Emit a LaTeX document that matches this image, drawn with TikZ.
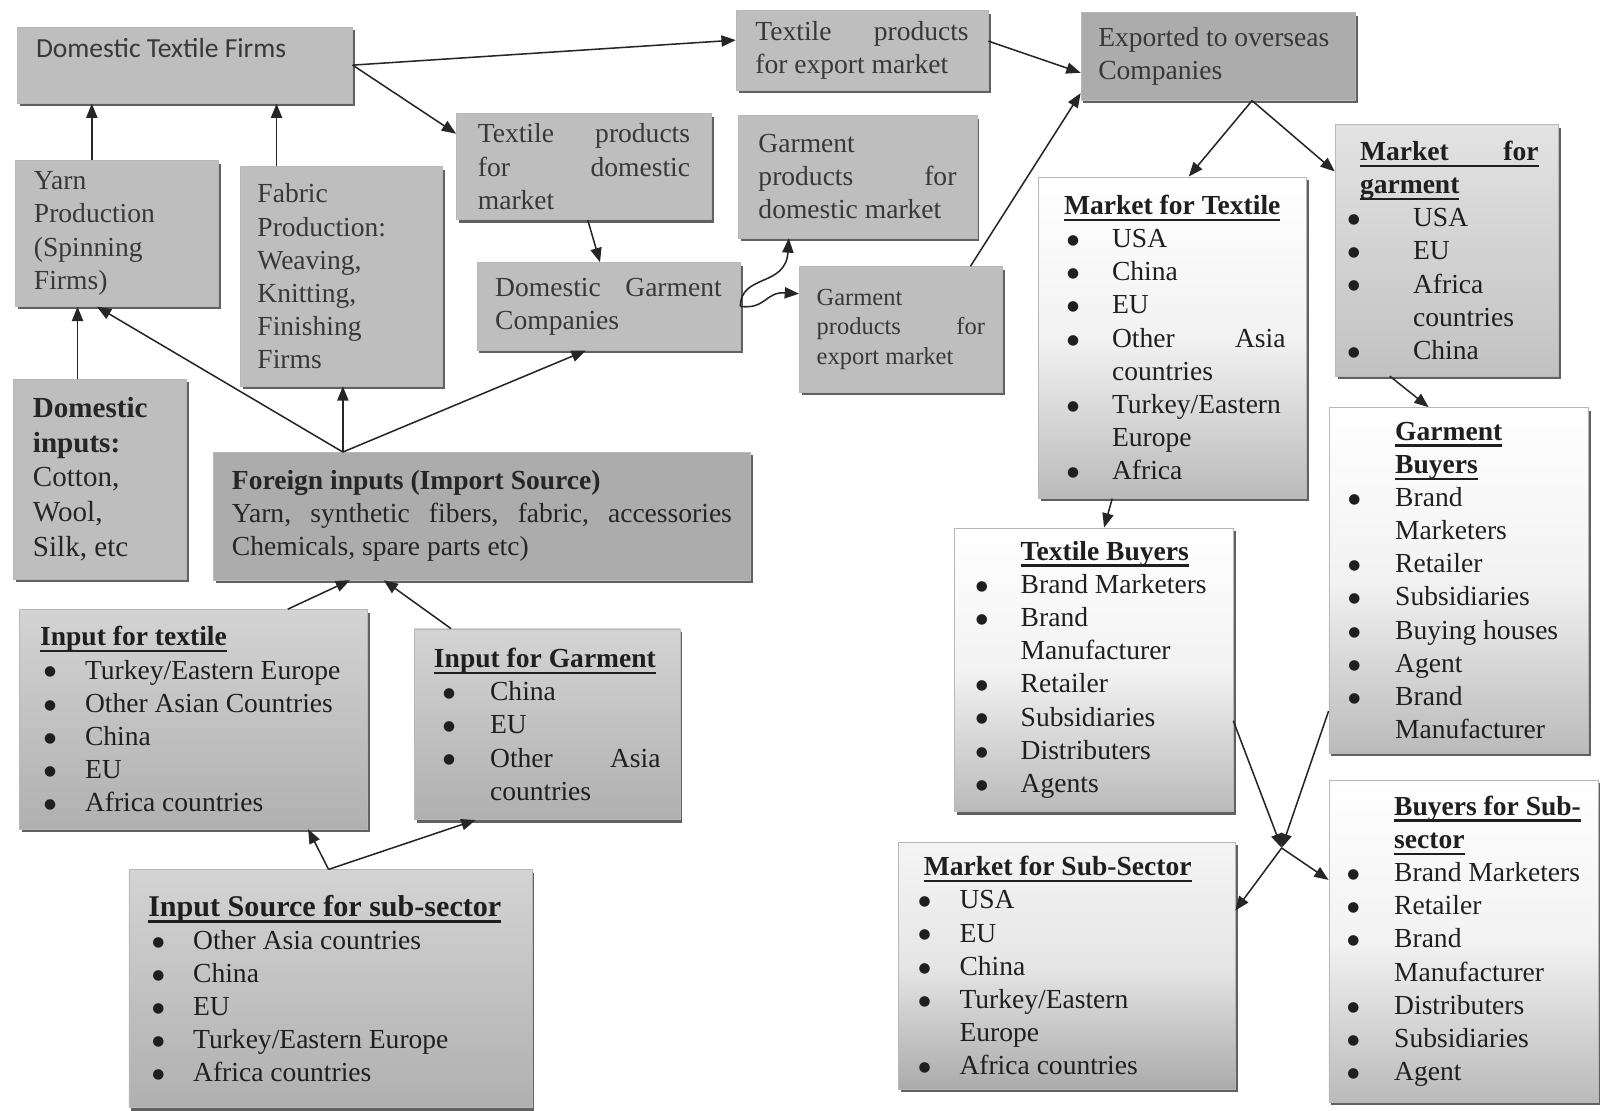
\documentclass[tikz,border=0pt]{standalone}
\usepackage{fontspec}
\setmainfont{Liberation Serif}
\newfontfamily\calibfont{Carlito}
\newfontfamily\dotfont{DejaVu Sans}
\usetikzlibrary{arrows.meta,shadows}

\definecolor{panelgrey}{RGB}{190,190,190}
\definecolor{deepgrey}{RGB}{172,172,172}

% line helpers for the boxes
\newlength{\bhang}\setlength{\bhang}{44pt}
\newlength{\boff}\setlength{\boff}{4pt}
\newcommand{\panel}[2]{\vbox{\hsize=#1\relax #2}}
\newcommand{\row}[1]{\hbox to\hsize{#1\hfil}}
\newcommand{\jrow}[1]{\hbox to\hsize{#1}}
\newcommand{\dotmark}{\raisebox{3pt}{\dotfont\fontsize{13.5}{13.5}\selectfont ●}}
\newcommand{\itm}[1]{\hbox to\hsize{\hbox to\bhang{\hskip\boff\dotmark\hfil}#1\hfil}}
\newcommand{\cnt}[1]{\hbox to\hsize{\hskip\bhang #1\hfil}}
\newcommand{\hdr}[1]{\setbox0=\hbox{\bfseries #1}\rlap{\rule[-6.5pt]{\wd0}{2.4pt}}\box0}

\tikzset{
  panel/.style={anchor=north west, inner sep=0pt, draw=black!28, line width=0.6pt, text=black!78,
    drop shadow={shadow xshift=2.5pt, shadow yshift=-3pt, fill=black!62, opacity=1}},
  greybox/.style={panel, fill=panelgrey},
  deepbox/.style={panel, fill=deepgrey},
  inbox/.style={panel, top color=black!17, bottom color=black!31, text=black!88},
  fadebox/.style={panel, top color=white, bottom color=black!27, middle color=black!5, text=black!88},
  flow/.style={draw=black!85, line width=1.5pt, -{Triangle[length=14pt,width=11pt]}}
}

\begin{document}
\begin{tikzpicture}[x=1pt, y=-1pt, font=\fontsize{27}{32.5}\selectfont]
    \useasboundingbox (0,0) rectangle (1568,1088);

    % Nodes: domestic side
    \node[greybox, minimum width=328pt, minimum height=75pt] (dtf) at (17,26)
        {\panel{292pt}{\row{\calibfont Domestic Textile Firms}\vskip33pt}};
    \node[greybox, minimum width=247pt, minimum height=78pt] (txexp) at (721,10)
        {\panel{209pt}{\jrow{Textile\hfill products}\row{for export market}}};
    \node[deepbox, minimum width=269pt, minimum height=86pt] (exported) at (1059,12)
        {\panel{235pt}{\row{Exported to overseas}\row{Companies}}};
    \node[greybox, minimum width=250pt, minimum height=104pt] (txdom) at (447,111)
        {\panel{208pt}{\jrow{Textile\hfill products}\jrow{for\hfill domestic}\row{market}}};
    \node[greybox, minimum width=234pt, minimum height=120pt] (gmdom) at (723,113)
        {\panel{194pt}{\row{Garment}\jrow{products\hfill for}\row{domestic market}}};
    \node[greybox, minimum width=199pt, minimum height=143pt] (yarn) at (15,157)
        {\panel{163pt}{\row{Yarn}\row{Production}\row{(Spinning}\row{Firms)}}};
    \node[greybox, minimum width=198pt, minimum height=215pt] (fabric) at (235,163)
        {\panel{164pt}{\row{Fabric}\row{Production:}\row{Weaving,}\row{Knitting,}\row{Finishing}\row{Firms}}};
    \node[greybox, minimum width=258pt, minimum height=86pt] (dg) at (467,257)
        {\panel{222pt}{\jrow{Domestic\hfill Garment}\row{Companies}}};
    \node[greybox, minimum width=199pt, minimum height=123pt, font=\fontsize{24}{29}\selectfont] (gmexp) at (783,261)
        {\panel{165pt}{\row{Garment}\jrow{products\hfill for}\row{export market}}};

    % Nodes: inputs
    \node[greybox, minimum width=169pt, minimum height=196pt, text=black!85, font=\fontsize{28.5}{34}\selectfont] (dominp) at (13,371)
        {\panel{131pt}{\row{\bfseries Domestic}\row{\bfseries inputs:}\row{Cotton,}\row{Wool,}\row{Silk, etc}}};
    \node[deepbox, minimum width=526pt, minimum height=125pt, text=black!85] (foreign) at (209,443)
        {\panel{490pt}{\row{\bfseries Foreign inputs (Import Source)}
         \jrow{Yarn,\hfill synthetic\hfill fibers,\hfill fabric,\hfill accessories}
         \row{Chemicals, spare parts etc)}}};
    \node[inbox, minimum width=341pt, minimum height=215pt] (inptx) at (19,597)
        {\panel{301pt}{\row{\hdr{Input for textile}}\itm{Turkey/Eastern Europe}\itm{Other Asian Countries}
         \itm{China}\itm{EU}\itm{Africa countries}}};
    \node[inbox, minimum width=260pt, minimum height=187pt] (inpgm) at (406,616)
        {\panel{222pt}{\bhang=55pt\boff=9pt\row{\hdr{Input for Garment}}\itm{China}\itm{EU}
         \itm{Other\hfill Asia}\cnt{countries}}};
    \node[inbox, minimum width=395pt, minimum height=233pt] (insrc) at (126,852)
        {\panel{357pt}{\row{\fontsize{29.5}{32.5}\selectfont\hdr{Input Source for sub-sector}}
         \itm{Other Asia countries}\itm{China}\itm{EU}\itm{Turkey/Eastern Europe}\itm{Africa countries}}};

    % Nodes: overseas markets and buyers
    \node[fadebox, minimum width=263pt, minimum height=315pt] (mkttx) at (1017,173)
        {\panel{222pt}{\bhang=52pt\boff=8pt\row{\hskip5pt\hdr{Market for Textile}}\itm{USA}\itm{China}\itm{EU}
         \itm{Other\hfill Asia}\cnt{countries}\itm{Turkey/Eastern}\cnt{Europe}\itm{Africa}}};
    \node[panel, top color=black!11, bottom color=black!24, text=black!88, minimum width=219pt, minimum height=246pt] (mktgm) at (1308,122)
        {\panel{200pt}{\bhang=67pt\boff=3pt\row{\hskip15pt\hdr{\hbox to 175pt{Market\hfill for}}}
         \row{\hskip15pt\hdr{garment}}\itm{USA}\itm{EU}\itm{Africa}\cnt{countries}\itm{China}}};
    \node[fadebox, minimum width=254pt, minimum height=339pt] (gmbuy) at (1302,399)
        {\panel{222pt}{\bhang=49pt\boff=3pt\row{\hskip\bhang\hdr{Garment}}\row{\hskip\bhang\hdr{Buyers}}
         \itm{Brand}\cnt{Marketers}\itm{Retailer}\itm{Subsidiaries}\itm{Buying houses}\itm{Agent}
         \itm{Brand}\cnt{Manufacturer}}};
    \node[fadebox, minimum width=273pt, minimum height=278pt] (txbuy) at (935,517)
        {\panel{237pt}{\bhang=47pt\boff=3pt\row{\hskip\bhang\hdr{Textile Buyers}}\itm{Brand Marketers}
         \itm{Brand}\cnt{Manufacturer}\itm{Retailer}\itm{Subsidiaries}\itm{Distributers}\itm{Agents}}};
    \node[panel, top color=black!4, bottom color=black!33, middle color=black!10, text=black!88, minimum width=330pt, minimum height=242pt] (mktsub) at (880,825)
        {\panel{296pt}{\bhang=43pt\boff=3pt\row{\hskip8pt\hdr{Market for Sub-Sector}}\itm{USA}\itm{EU}\itm{China}
         \itm{Turkey/Eastern}\cnt{Europe}\itm{Africa countries}}};
    \node[fadebox, minimum width=264pt, minimum height=316pt] (buysub) at (1302,764)
        {\panel{234pt}{\bhang=49pt\boff=3pt\row{\hskip\bhang\hdr{Buyers for Sub-}}\row{\hskip\bhang\hdr{sector}}
         \itm{Brand Marketers}\itm{Retailer}\itm{Brand}\cnt{Manufacturer}\itm{Distributers}
         \itm{Subsidiaries}\itm{Agent}}};

    % Edges
    \coordinate (jn) at (1256,831);                        % where the buyer arrows meet
    \coordinate (fi) at ([xshift=127pt]foreign.north west);
    \coordinate (ya) at ([xshift=75pt]yarn.north west);
    \coordinate (fa) at ([xshift=36pt]fabric.north west);
    \coordinate (di) at ([xshift=63pt]dominp.north west);
    \coordinate (ex) at ([xshift=168pt]exported.south west);
    \coordinate (is) at ([xshift=196pt]insrc.north west);

    \draw[flow] (ya) -- (ya |- dtf.south);
    \draw[flow] (fa) -- (fa |- dtf.south);
    \draw[flow] (dtf.east) -- ([yshift=10pt]txexp.west);
    \draw[flow] (dtf.east) -- ([yshift=-20pt]txdom.north west);
    \draw[flow] ([xshift=129pt]txdom.south west) -- ([xshift=121pt]dg.north west);
    \draw[flow] (dg.east) .. controls +(0,-32) and +(-3,48) .. ([xshift=50pt]gmdom.south west);
    \draw[flow] (dg.east) .. controls +(25,3) and +(-33,-2) .. ([yshift=35pt]gmexp.west);
    \draw[flow] ([xshift=168pt]gmexp.north west) -- ([yshift=-36pt]exported.west);
    \draw[flow] ([yshift=9pt]txexp.east) -- ([yshift=-16pt]exported.west);
    \draw[flow] (ex) -- ([xshift=148pt]mkttx.north west);
    \draw[flow] (ex) -- ([yshift=-46pt]mktgm.north west);
    \draw[flow] ([xshift=73pt]mkttx.south west) -- ([xshift=147pt]txbuy.north west);
    \draw[flow] ([xshift=54pt]mktgm.south west) -- ([xshift=98pt]gmbuy.north west);
    \draw[flow] ([yshift=-50pt]txbuy.east) -- (jn);
    \draw[flow] ([yshift=-128pt]gmbuy.west) -- (jn);
    \draw[flow] (jn) -- ([yshift=54pt]mktsub.east);
    \draw[flow] (jn) -- ([yshift=60pt]buysub.west);
    \draw[flow] (di) -- (di |- yarn.south);
    \draw[flow] (fi) -- ([xshift=80pt]yarn.south west);
    \draw[flow] (fi) -- (fi |- fabric.south);
    \draw[flow] (fi) -- ([xshift=107pt]dg.south west);
    \draw[flow] ([xshift=263pt]inptx.north west) -- ([xshift=134pt]foreign.south west);
    \draw[flow] ([xshift=36pt]inpgm.north west) -- ([xshift=167pt]foreign.south west);
    \draw[flow] (is) -- ([xshift=283pt]inptx.south west);
    \draw[flow] (is) -- ([xshift=60pt]inpgm.south west);
\end{tikzpicture}
\end{document}
